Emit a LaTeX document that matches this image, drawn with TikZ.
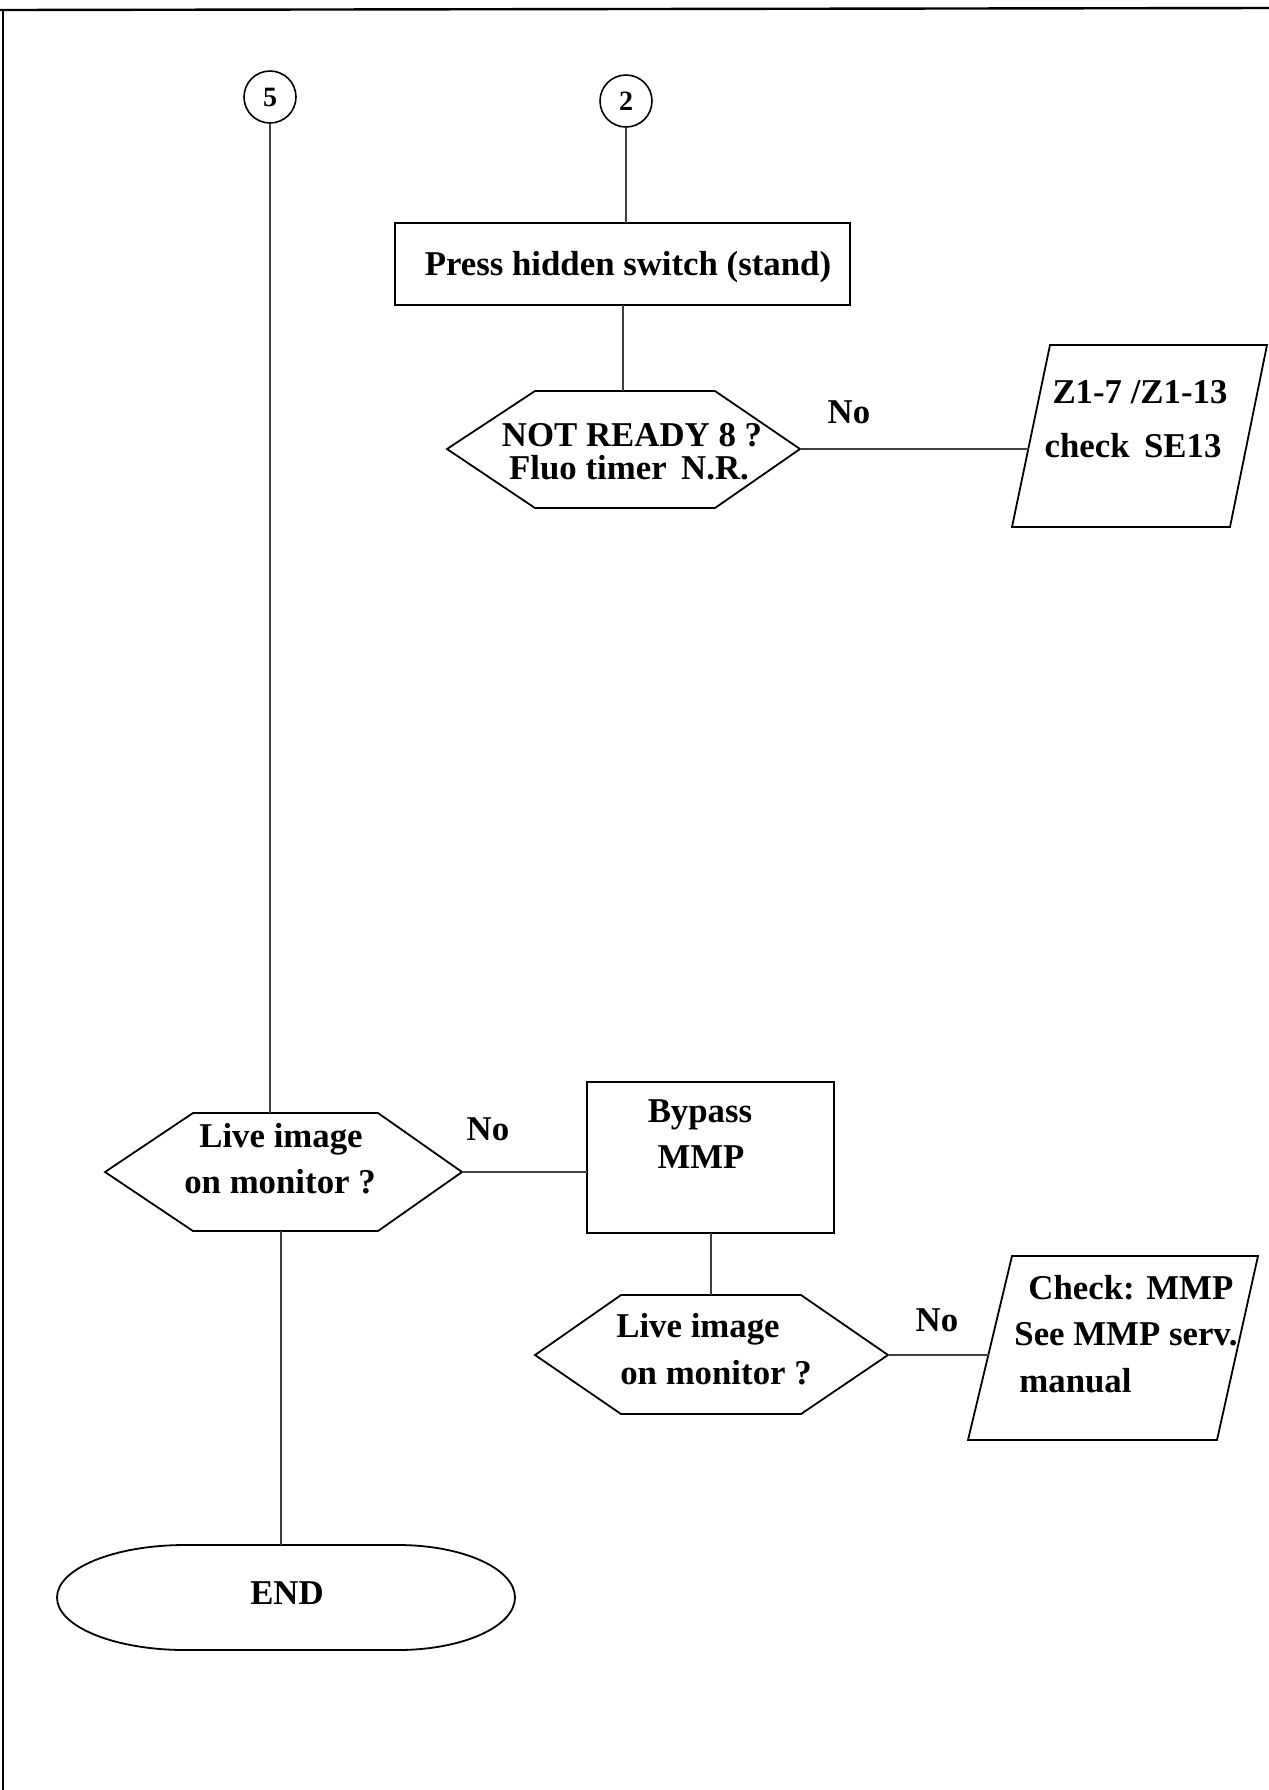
\documentclass[tikz,border=0pt]{standalone}
\usepackage{fontspec}
\setmainfont{Liberation Serif}
\begin{document}
\begin{tikzpicture}[x=0.5pt,y=-0.5pt,
  lbl/.style={anchor=base, inner sep=0pt, font=\fontsize{17.4}{21}\selectfont\bfseries},
  lblw/.style={lbl, anchor=base west},
  outline/.style={draw=black, line width=0.9pt, line join=miter},
  conn/.style={draw=black!75, line width=0.75pt},
  frameline/.style={draw=black, line width=1.2pt},
  connector/.style={circle, draw=black, line width=0.8pt, minimum size=26pt, inner sep=0pt,
    font=\fontsize{14}{16}\selectfont\bfseries}]
\useasboundingbox (0,0) rectangle (1269,1790);

% page frame
\draw[frameline] (0,10) -- (1269,8);
\draw[frameline] (3,10) -- (3,1790);

% off-page connectors
\node[connector] (c5) at (270,97) {5};
\node[connector] (c2) at (626,101) {2};

% Press hidden switch
\draw[outline] (395,223) rectangle (850,305);
\coordinate (pbN) at (626,223);
\coordinate (pbS) at (623,305);
\node[lbl] (pbt) at (628,275) {Press hidden switch (stand)};

% NOT READY decision
\draw[outline] (447,449) -- (535,391) -- (715,391) -- (800,449) -- (715,508) -- (535,508) -- cycle;
\coordinate (nrN) at (623,391);
\coordinate (nrE) at (800,449);
\node[lbl] (nrt1) at (632,446) {NOT READY 8 ?};
\node[lbl] (nrt2) at (629,479) {Fluo timer\, N.R.};
\node[lbl] (no1) at (849,423) {No};

% Z1 check
\draw[outline] (1050,345) -- (1267,345) -- (1230,527) -- (1012,527) -- cycle;
\coordinate (zW) at (1029,449);
\node[lbl] (zt1) at (1140,403) {Z1-7 /Z1-13};
\node[lbl] (zt2) at (1133,457) {check\, SE13};

% Live image decision 1
\draw[outline] (105,1172) -- (193,1113) -- (378,1113) -- (462,1172) -- (378,1231) -- (193,1231) -- cycle;
\coordinate (l1N) at (270,1113);
\coordinate (l1S) at (281,1231);
\coordinate (l1E) at (462,1172);
\node[lbl] (l1t1) at (281,1147) {Live image};
\node[lbl] (l1t2) at (280,1193) {on monitor ?};
\node[lbl] (no2) at (488,1140) {No};

% Bypass MMP
\draw[outline] (587,1082) rectangle (834,1233);
\coordinate (bpW) at (587,1172);
\coordinate (bpS) at (711,1233);
\node[lbl] (bpt1) at (700,1122) {Bypass};
\node[lbl] (bpt2) at (701,1168) {MMP};

% Live image decision 2
\draw[outline] (535,1355) -- (621,1295) -- (801,1295) -- (888,1355) -- (801,1414) -- (621,1414) -- cycle;
\coordinate (l2N) at (711,1295);
\coordinate (l2E) at (888,1355);
\node[lbl] (l2t1) at (698,1337) {Live image};
\node[lbl] (l2t2) at (716,1384) {on monitor ?};
\node[lbl] (no3) at (937,1331) {No};

% Check MMP
\draw[outline] (1012,1256) -- (1258,1256) -- (1217,1440) -- (968,1440) -- cycle;
\coordinate (ckW) at (989,1355);
\node[lblw] (ckt1) at (1028,1299) {Check: MMP};
\node[lblw] (ckt2) at (1014,1345) {See MMP serv.};
\node[lblw] (ckt3) at (1019,1392) {manual};

% END terminator
\draw[outline] (185,1545) -- (398,1545)
  arc[start angle=-90, end angle=90, x radius=117, y radius=52.5]
  -- (185,1650)
  arc[start angle=90, end angle=270, x radius=128, y radius=52.5] -- cycle;
\coordinate (endN) at (281,1545);
\node[lbl] (endt) at (287,1604) {END};

% connectors
\draw[conn] (c2.south) -- (pbN);
\draw[conn] (pbS) -- (nrN);
\draw[conn] (nrE) -- (zW);
\draw[conn] (c5.south) -- (l1N);
\draw[conn] (l1E) -- (bpW);
\draw[conn] (bpS) -- (l2N);
\draw[conn] (l2E) -- (ckW);
\draw[conn] (l1S) -- (endN);
\end{tikzpicture}
\end{document}
